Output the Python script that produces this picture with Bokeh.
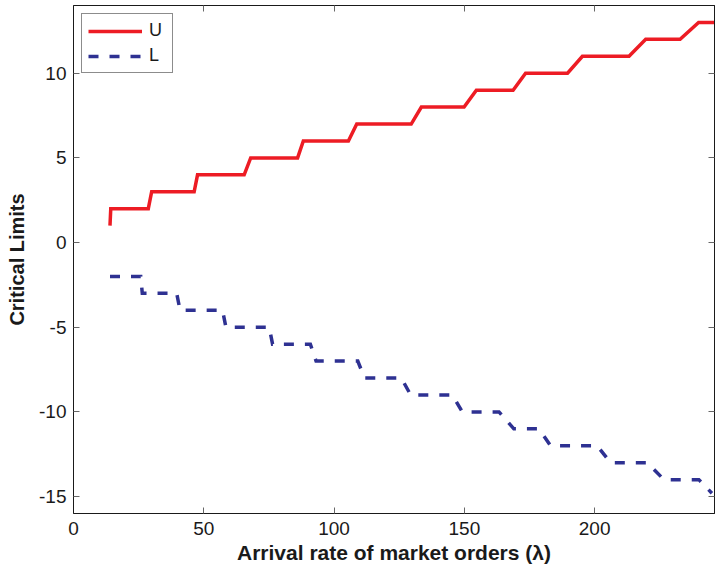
from bokeh.plotting import figure
from bokeh.models import (Range1d, LinearAxis, FixedTicker, CustomJSTickFormatter,
                          Legend, LegendItem)
from bokeh.embed import file_html
from bokeh.resources import INLINE

# ---- data ----
u_lambda = [14, 14.3, 28.7, 30, 46.3, 47.6, 65.5, 68, 86, 88.2, 105.5, 108.7,
            129.6, 133.5, 149.9, 154.6, 168.7, 173.5, 189.6, 195.3, 213.2, 219.6,
            232.8, 239.9, 246]
u_value = [1, 2, 2, 3, 3, 4, 4, 5, 5, 6, 6, 7,
           7, 8, 8, 9, 9, 10, 10, 11, 11, 12,
           12, 13, 13]

l_lambda = [14, 25.8, 26.4, 39.6, 40.9, 57.2, 58.5, 75.1, 76.4, 90.9, 93.1,
            109.1, 111.7, 125.8, 129.4, 145.4, 149.2, 163.3, 169.0, 178.6, 183.1,
            201.0, 206.1, 220.2, 226.6, 240.0, 245.0]
l_value = [-2, -2, -3, -3, -4, -4, -5, -5, -6, -6, -7,
           -7, -8, -8, -9, -9, -10, -10, -11, -11, -12,
           -12, -13, -13, -14, -14, -14.8]

x_ticks = [0, 50, 100, 150, 200]
y_ticks = [-15, -10, -5, 0, 5, 10]

FONT = "Liberation Sans"

p = figure(width=716, height=567, x_range=Range1d(0, 246), y_range=Range1d(-16, 14),
           output_backend="svg", toolbar_location=None,
           min_border_left=73, min_border_right=2, min_border_top=5, min_border_bottom=54)

p.xgrid.visible = False
p.ygrid.visible = False
p.background_fill_color = "white"
p.border_fill_color = "white"
p.outline_line_color = "#1a1a1a"
p.outline_line_width = 1

r_u = p.line(u_lambda, u_value, line_color="#ED1C24", line_width=3.5,
             line_join="miter")
r_l = p.line(l_lambda, l_value, line_color="#2E3192", line_width=3.5,
             line_dash="10 11", line_join="miter")

def style_axis(ax, ticks):
    ax.ticker = FixedTicker(ticks=ticks)
    ax.minor_tick_line_color = None
    ax.major_tick_in = 6
    ax.major_tick_out = 0
    ax.major_tick_line_color = "#666666"
    ax.axis_line_color = "#1a1a1a"
    ax.major_label_text_font = FONT
    ax.major_label_text_font_size = "19px"
    ax.major_label_text_color = "#1a1a1a"
    ax.axis_label_text_font = FONT
    ax.axis_label_text_font_style = "bold"
    ax.axis_label_text_color = "#1a1a1a"

plain = "return String(tick);"

xa = p.xaxis[0]
style_axis(xa, x_ticks)
xa.formatter = CustomJSTickFormatter(code=plain)
xa.axis_label = "Arrival rate of market orders (λ)"
xa.axis_label_text_font_size = "21px"
xa.major_label_standoff = 8
xa.axis_label_standoff = 3

ya = p.yaxis[0]
style_axis(ya, y_ticks)
ya.formatter = CustomJSTickFormatter(code=plain)
ya.axis_label = "Critical Limits"
ya.axis_label_text_font_size = "20px"
ya.major_label_standoff = 7
ya.axis_label_standoff = 8

# mirrored ticks on top and right (box style)
top = LinearAxis(formatter=CustomJSTickFormatter(code="return '';"))
style_axis(top, x_ticks)
top.major_label_text_font_size = "1px"
top.major_label_standoff = 0
p.add_layout(top, "above")

right = LinearAxis(formatter=CustomJSTickFormatter(code="return '';"))
style_axis(right, y_ticks)
right.major_label_text_font_size = "1px"
right.major_label_standoff = 0
p.add_layout(right, "right")

legend = Legend(items=[LegendItem(label="U", renderers=[r_u]),
                       LegendItem(label="L", renderers=[r_l])],
                location="top_left")
legend.margin = 8
legend.padding = 6
legend.spacing = 4
legend.glyph_width = 54
legend.glyph_height = 18
legend.label_height = 18
legend.label_width = 17
legend.label_standoff = 7
legend.label_text_font = FONT
legend.label_text_font_size = "18px"
legend.label_text_color = "#1a1a1a"
legend.border_line_color = "#1a1a1a"
legend.border_line_width = 1
legend.background_fill_color = "white"
legend.background_fill_alpha = 1
p.add_layout(legend, "center")

open("out.html", "w").write(file_html(p, INLINE))
